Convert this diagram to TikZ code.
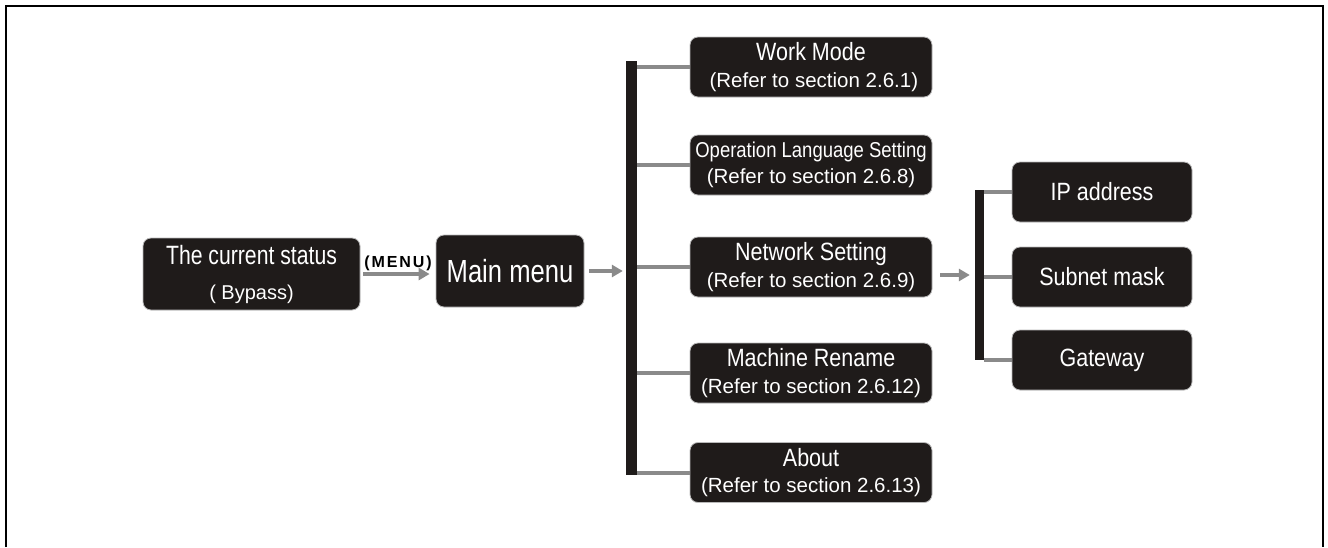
\documentclass[tikz,border=0pt]{standalone}
\usepackage{fontspec}
\setmainfont{Liberation Sans}
\newfontfamily\tfont[FakeStretch=0.86]{Liberation Sans}
\newfontfamily\mfont[FakeStretch=0.8]{Liberation Sans}
\newfontfamily\menufont[LetterSpace=12]{Liberation Sans}
\usetikzlibrary{arrows.meta}
\definecolor{boxfill}{HTML}{1F1B1A}
\definecolor{linegray}{HTML}{8A8A8A}
\tikzset{
  box/.style={draw=gray!55, line width=0.8pt, fill=boxfill, text=white, rounded corners=8pt, align=center, inner sep=0pt,
    font=\fontsize{20.5}{26.5}\selectfont},
  bar/.style={fill=boxfill, draw=none, inner sep=0pt},
  branch/.style={draw=linegray, line width=4pt},
  arr/.style={draw=linegray, line width=4pt, -{Triangle[length=11pt,width=12pt]}},
}
\newcommand{\ttl}[1]{{\tfont\fontsize{25}{27}\selectfont #1}}
\newcommand{\rf}[1]{{\fontsize{20.5}{26.5}\selectfont #1}}
\begin{document}
\begin{tikzpicture}[x=1pt,y=-1pt]
\useasboundingbox (0,0) rectangle (1328,547);
% frame (open at the bottom)
\draw[line width=2pt] (6,547) -- (6,6) -- (1323,6) -- (1323,547);

\node[box, minimum width=217pt, minimum height=72pt, font=\fontsize{20}{35}\selectfont] (status) at (251.5,274)
  {{\mfont\fontsize{26.5}{28}\selectfont The current status}\\{\fontsize{20}{35}\selectfont ( Bypass)}};
\node[box, minimum width=148pt, minimum height=72pt] (main) at (510,271)
  {{\mfont\fontsize{32}{34}\selectfont Main menu}};

\node[bar, minimum width=11pt, minimum height=414pt] (bar) at (631.5,268) {};

\node[box, minimum width=242pt, minimum height=60pt] (work) at (811,67)
  {\ttl{Work Mode}\\\rf{ (Refer to section 2.6.1)}};
\node[box, minimum width=242pt, minimum height=60pt] (oper) at (811,165)
  {{\tfont\fontsize{21.5}{24}\selectfont Operation Language Setting}\\\rf{(Refer to section 2.6.8)}};
\node[box, minimum width=242pt, minimum height=60pt] (net) at (811,267)
  {\ttl{Network Setting}\\\rf{(Refer to section 2.6.9)}};
\node[box, minimum width=242pt, minimum height=60pt] (mach) at (811,373)
  {\ttl{Machine Rename}\\\rf{(Refer to section 2.6.12)}};
\node[box, minimum width=242pt, minimum height=60pt] (about) at (811,472.5)
  {\ttl{About}\\\rf{(Refer to section 2.6.13)}};

\node[bar, minimum width=9pt, minimum height=170pt] (sub) at (979.5,275) {};

\node[box, minimum width=180pt, minimum height=60pt] (ip) at (1102,192) {\ttl{IP address}};
\node[box, minimum width=180pt, minimum height=60pt] (mask) at (1102,277) {\ttl{Subnet mask}};
\node[box, minimum width=180pt, minimum height=60pt] (gw) at (1102,360) {\ttl{Gateway}};

% arrows
\draw[arr, shorten <=3pt, shorten >=6pt] (status.east) -- (main.west |- status.east)
  node[midway, above=-2pt, font=\menufont\bfseries\fontsize{16}{18}\selectfont] (menu) {(MENU)};
\draw[arr, shorten <=5pt, shorten >=3pt] (main.east) -- (bar.west |- main.east);
\draw[arr, shorten <=8pt, shorten >=5pt] (net.east |- sub.west) -- (sub.west);

% branches
\foreach \n in {work,oper,net,mach,about}
  \draw[branch] (bar.east |- \n.west) -- (\n.west);
\foreach \n in {ip,mask,gw}
  \draw[branch] (sub.east |- \n.west) -- (\n.west);
\end{tikzpicture}
\end{document}
